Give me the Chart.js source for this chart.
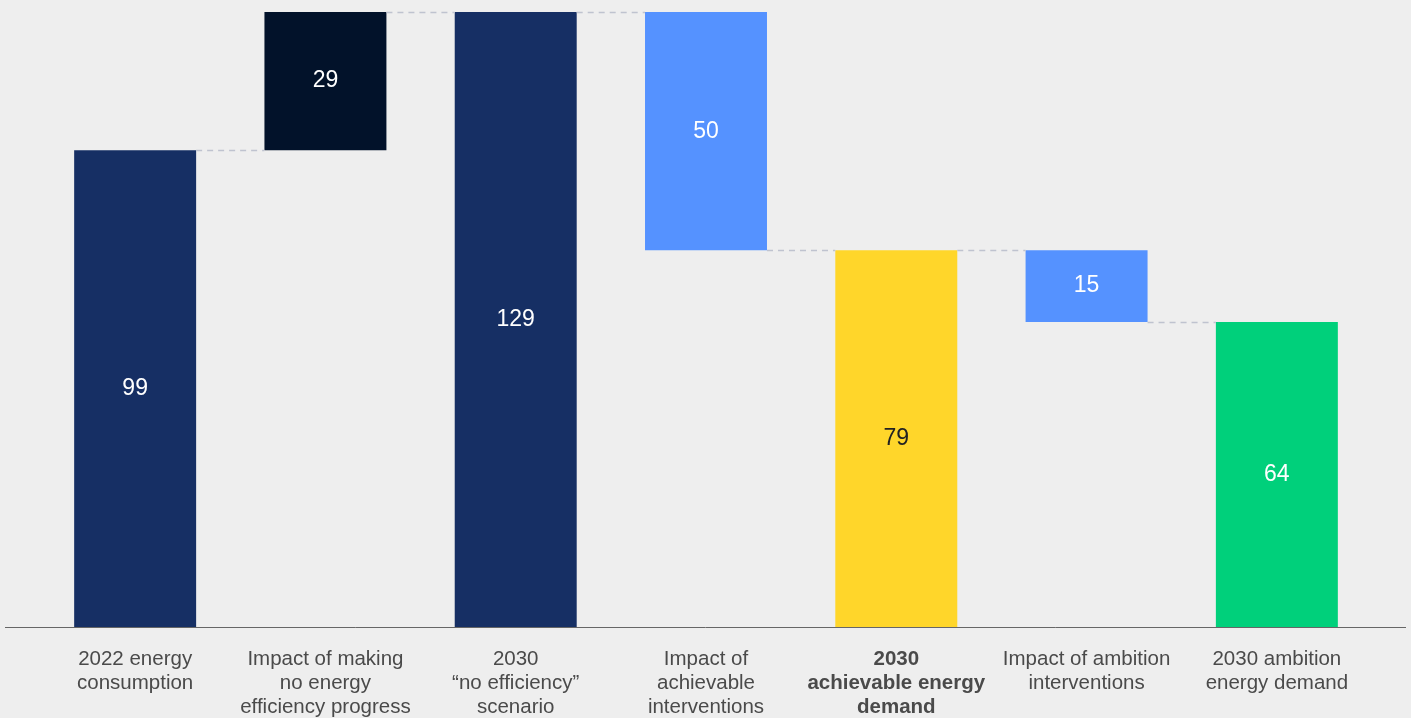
<!DOCTYPE html>
<html>
<head>
<meta charset="utf-8">
<script src="https://cdn.jsdelivr.net/npm/chart.js@4"></script>
<style>
  html, body { margin: 0; padding: 0; background: #eeeeee; }
  #wrap { width: 1411px; height: 718px; position: relative; }
</style>
</head>
<body>
<div id="wrap"><canvas id="c"></canvas></div>
<script>
const categories = [
  ["2022 energy", "consumption"],
  ["Impact of making", "no energy", "efficiency progress"],
  ["2030", "\u201cno efficiency\u201d", "scenario"],
  ["Impact of", "achievable", "interventions"],
  ["2030", "achievable energy", "demand"],
  ["Impact of ambition", "interventions"],
  ["2030 ambition", "energy demand"]
];
const valueLabels = ["99", "29", "129", "50", "79", "15", "64"];
const barStart = [0, 100, 0, 79, 0, 64, 0];
const barEnd = [100, 129, 129, 129, 79, 79, 64];
const barColors = ["#162f64", "#02122a", "#162f64", "#5592ff", "#ffd62a", "#5592ff", "#00d07b"];
const labelColors = ["#ffffff", "#ffffff", "#ffffff", "#ffffff", "#222222", "#ffffff", "#ffffff"];
const boldCategory = 4;

const FONT = "'Liberation Sans', Arial, Helvetica, sans-serif";

const overlay = {
  id: 'overlay',
  afterDatasetsDraw(chart) {
    const ctx = chart.ctx;
    const meta = chart.getDatasetMeta(0);
    const y = chart.scales.y;
    ctx.save();
    ctx.strokeStyle = '#bfc3cf';
    ctx.lineWidth = 1.5;
    ctx.setLineDash([6, 5]);
    for (let i = 0; i < meta.data.length - 1; i++) {
      const a = [barStart[i], barEnd[i]];
      const b = [barStart[i + 1], barEnd[i + 1]];
      const lvl = a.find(v => b.includes(v) && v !== 0);
      const ya = Math.round(y.getPixelForValue(lvl)) + 0.5;
      const e1 = meta.data[i], e2 = meta.data[i + 1];
      ctx.beginPath();
      ctx.moveTo(e1.x + e1.width / 2, ya);
      ctx.lineTo(e2.x - e2.width / 2, ya);
      ctx.stroke();
    }
    ctx.restore();
    ctx.save();
    ctx.font = "23px " + FONT;
    ctx.textAlign = 'center';
    ctx.textBaseline = 'middle';
    meta.data.forEach((el, i) => {
      const yc = (y.getPixelForValue(barStart[i]) + y.getPixelForValue(barEnd[i])) / 2;
      ctx.fillStyle = labelColors[i];
      ctx.fillText(valueLabels[i], el.x, yc);
    });
    ctx.restore();
    ctx.save();
    const y0 = Math.round(y.getPixelForValue(0)) + 0.5;
    ctx.strokeStyle = '#666666';
    ctx.lineWidth = 1;
    ctx.beginPath();
    ctx.moveTo(5, y0);
    ctx.lineTo(1406, y0);
    ctx.stroke();
    ctx.restore();
  }
};

new Chart(document.getElementById('c'), {
  type: 'bar',
  data: {
    labels: categories,
    datasets: [{
      data: barStart.map((s, i) => [s, barEnd[i]]),
      backgroundColor: barColors,
      borderWidth: 0,
      barPercentage: 0.641,
      categoryPercentage: 1.0
    }]
  },
  options: {
    responsive: true,
    maintainAspectRatio: false,
    animation: false,
    layout: { padding: { left: 40, right: 39, top: 12, bottom: 0 } },
    plugins: { legend: { display: false }, tooltip: { enabled: false } },
    scales: {
      x: {
        grid: { display: false },
        border: { display: false },
        ticks: {
          color: '#4a4a4a',
          padding: 12,
          maxRotation: 0,
          autoSkip: false,
          font: (c) => ({ family: FONT, size: 20.5, lineHeight: 1.17, weight: c.index === boldCategory ? 'bold' : 'normal' })
        },
        afterFit(scale) { scale.height = 91; }
      },
      y: {
        display: false,
        min: 0,
        max: 129
      }
    }
  },
  plugins: [overlay]
});
</script>
</body>
</html>
